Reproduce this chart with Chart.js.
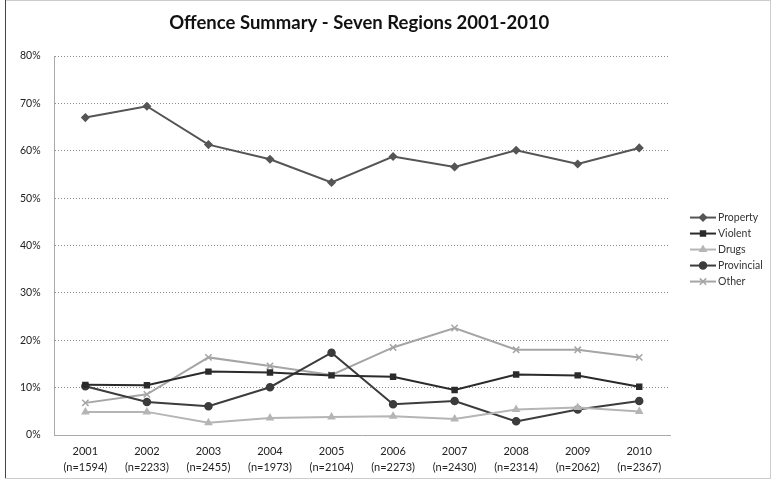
<!DOCTYPE html>
<html>
<head>
<meta charset="utf-8">
<script src="https://cdn.jsdelivr.net/npm/chart.js@4/dist/chart.umd.min.js"></script>
<style>
  html, body { margin: 0; padding: 0; background: #fff; }
  #wrap { width: 771px; height: 483px; }
</style>
</head>
<body>
<div id="wrap"><canvas id="offenceChart" width="771" height="483"></canvas></div>
<script>
const years = ['2001', '2002', '2003', '2004', '2005', '2006', '2007', '2008', '2009', '2010'];
const counts = ['1594', '2233', '2455', '1973', '2104', '2273', '2430', '2314', '2062', '2367'];

const property   = [67.0, 69.4, 61.3, 58.2, 53.3, 58.8, 56.6, 60.1, 57.2, 60.6];
const violent    = [10.6, 10.5, 13.4, 13.2, 12.6, 12.3, 9.5, 12.8, 12.6, 10.2];
const drugs      = [4.9, 4.9, 2.6, 3.6, 3.8, 4.0, 3.4, 5.4, 5.8, 5.0];
const provincial = [10.3, 7.0, 6.1, 10.1, 17.4, 6.5, 7.2, 2.9, 5.4, 7.2];
const other      = [6.8, 8.6, 16.4, 14.6, 12.7, 18.5, 22.6, 18.0, 18.0, 16.4];

const yTicks = [0, 10, 20, 30, 40, 50, 60, 70, 80];

const labels = years.map((y, i) => [y, '(n=' + counts[i] + ')']);

const FONT = 'Lato, "Open Sans", sans-serif';

function series(label, data, color, style, radius) {
    return {
        label: label,
        data: data,
        borderColor: color,
        backgroundColor: color,
        pointBackgroundColor: color,
        pointBorderColor: color,
        pointStyle: style,
        pointRadius: radius,
        pointBorderWidth: 1.5,
        borderWidth: 2,
        fill: false,
        tension: 0,
    };
}

// frame, title over the plot area, and an Excel-style legend (line + marker)
const framePlugin = {
    id: 'frame',
    beforeDraw(chart) {
        const c = chart.ctx;
        c.save();
        c.fillStyle = '#fff';
        c.fillRect(0, 0, chart.width, chart.height);
        c.strokeStyle = '#999';
        c.setLineDash([1, 1]);
        c.lineWidth = 1;
        c.strokeRect(5.5, 0.5, chart.width - 6, 478);
        c.setLineDash([]);
        c.strokeStyle = '#444';
        c.beginPath();
        c.moveTo(5.5, 0);
        c.lineTo(5.5, 478);
        c.stroke();
        c.restore();
    },
    afterDraw(chart) {
        const c = chart.ctx;
        const a = chart.chartArea;
        c.save();
        c.font = 'bold 18.5px ' + FONT;
        c.fillStyle = '#111';
        c.textAlign = 'center';
        c.textBaseline = 'middle';
        c.fillText('Offence Summary - Seven Regions 2001-2010', (a.left + a.right) / 2 - 3, 23);

        const sets = chart.data.datasets;
        const x0 = a.right + 20;
        const y0 = (a.top + a.bottom) / 2 + 4 - (sets.length - 1) * 16 / 2;
        c.font = '10.5px ' + FONT;
        c.textAlign = 'left';
        sets.forEach((ds, i) => {
            const y = y0 + i * 16;
            c.strokeStyle = ds.borderColor;
            c.fillStyle = ds.borderColor;
            c.lineWidth = 2;
            c.beginPath();
            c.moveTo(x0, y);
            c.lineTo(x0 + 26, y);
            c.stroke();
            c.lineWidth = ds.pointBorderWidth;
            Chart.helpers.drawPoint(c, {
                pointStyle: ds.pointStyle,
                radius: ds.pointRadius,
                borderWidth: ds.pointBorderWidth,
            }, x0 + 13, y);
            c.fillStyle = '#333';
            c.fillText(ds.label, x0 + 28, y);
        });
        c.restore();
    }
};

const ctx = document.getElementById('offenceChart').getContext('2d');

const chart = new Chart(ctx, {
    type: 'line',
    data: {
        labels: labels,
        datasets: [
            series('Property', property, '#555555', 'rectRot', 3.5),
            series('Violent', violent, '#2b2b2b', 'rect', 3.5),
            series('Drugs', drugs, '#b5b5b5', 'triangle', 3.5),
            series('Provincial', provincial, '#3c3c3c', 'circle', 3.5),
            series('Other', other, '#a5a5a5', 'crossRot', 4.5),
        ],
    },
    options: {
        responsive: false,
        animation: false,
        layout: {
            padding: { top: 56, left: 6, right: 101, bottom: 0 },
        },
        plugins: {
            title: { display: false },
            tooltip: { enabled: false },
            legend: { display: false },
        },
        scales: {
            x: {
                offset: true,
                grid: { display: false, drawTicks: false },
                border: { color: '#aaa' },
                ticks: {
                    padding: 8,
                    color: '#222',
                    maxRotation: 0,
                    font: { size: 11, family: FONT, lineHeight: 1.45 },
                },
            },
            y: {
                min: 0,
                max: 80,
                afterBuildTicks(axis) {
                    axis.ticks = yTicks.map(v => ({ value: v }));
                },
                grid: { color: '#8a8a8a', drawTicks: false },
                border: { color: '#aaa', dash: [1, 2] },
                ticks: {
                    padding: 14,
                    color: '#222',
                    font: { size: 10.5, family: FONT },
                    callback: v => v + '%',
                },
            },
        },
    },
    plugins: [framePlugin],
});
</script>
</body>
</html>
